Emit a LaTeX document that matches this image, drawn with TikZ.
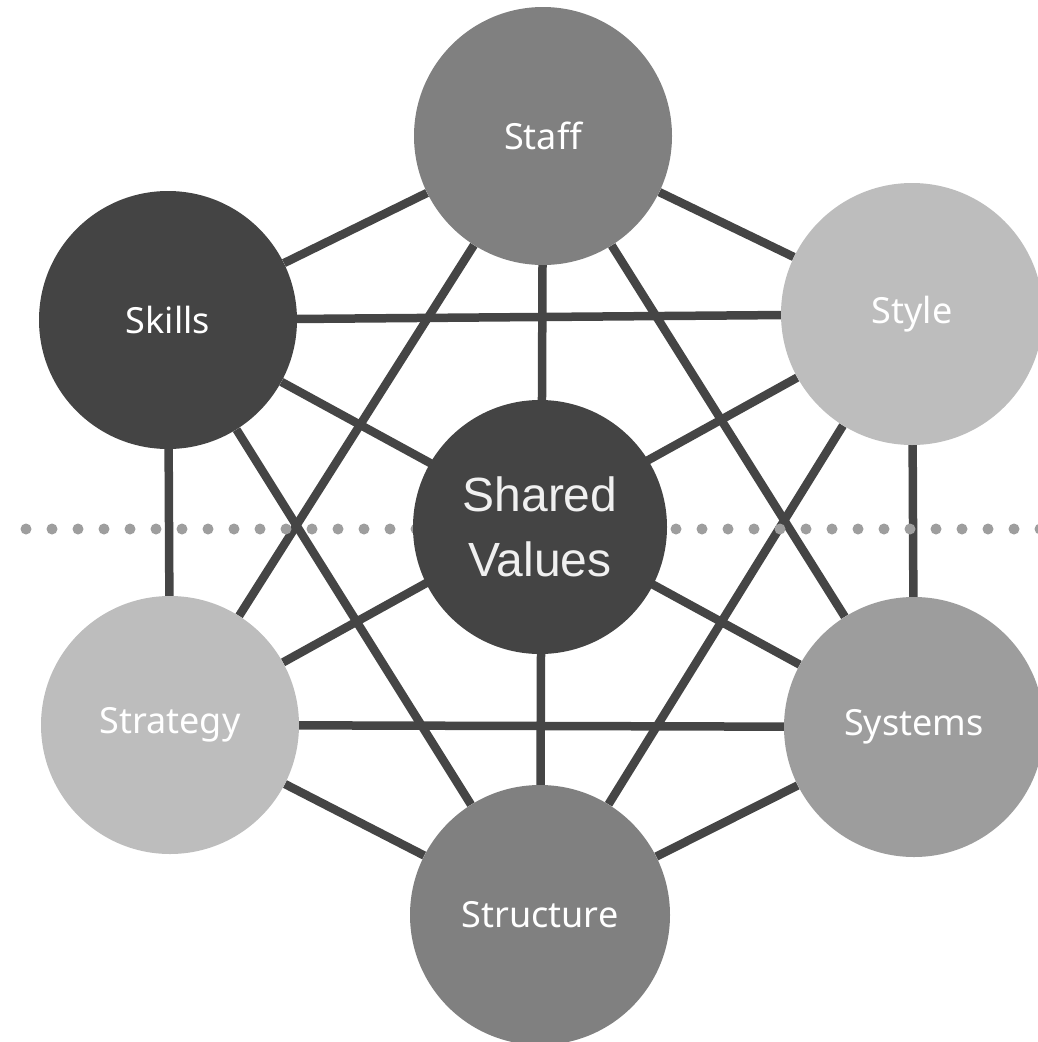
\documentclass[tikz,border=0pt]{standalone}
\usepackage{fontspec}
\setmainfont{Noto Sans}
\newfontfamily\valuesfont{Liberation Sans}
\usetikzlibrary{backgrounds}

\definecolor{linkgray}{HTML}{454545}
\definecolor{dotgray}{HTML}{9E9E9E}
\definecolor{darkgray}{HTML}{444444}
\definecolor{midgray}{HTML}{808080}
\definecolor{sysgray}{HTML}{9D9D9D}
\definecolor{lightgray}{HTML}{BDBDBD}

\begin{document}
\begin{tikzpicture}[
                    x=1pt, y=-1pt,
                    element/.style={circle, inner sep=0pt, minimum size=258pt, text=white,
                                    font=\fontsize{36}{42}\selectfont},
                    link/.style={draw=linkgray, line width=8.5pt}]

                \useasboundingbox (0,0) rectangle (1038,1042);

                \node[element, fill=midgray] (staff) at (543,136) {Staff};
                \node[element, fill=darkgray] (skills) at (168,320) {Skills};
                \node[element, fill=lightgray, minimum size=262pt] (style) at (912,314) {Style};
                \node[element, fill=lightgray] (strategy) at (170,725) {Strategy};
                \node[element, fill=sysgray, minimum size=260pt] (systems) at (914,727) {Systems};
                \node[element, fill=midgray, minimum size=260pt] (structure) at (540,915) {Structure};
                \node[element, fill=darkgray, minimum size=254pt, align=center, text=white!94!black,
                      font=\valuesfont\fontsize{48}{65}\selectfont] (shared) at (540,527) {Shared\\Values};

                \begin{scope}[on background layer]
                    % every element linked to every other one
                    \foreach \a/\b in {staff/skills, staff/style, staff/strategy, staff/systems, staff/structure,
                                       skills/style, skills/strategy, skills/systems, skills/structure,
                                       style/strategy, style/systems, style/structure,
                                       strategy/systems, strategy/structure,
                                       systems/structure}
                        \draw[link] (\a) -- (\b);
                    % dotted divider
                    \foreach \i in {0,...,39}
                        \fill[dotgray] (26+26*\i,529) circle (5.5);
                \end{scope}

            \end{tikzpicture}
\end{document}
